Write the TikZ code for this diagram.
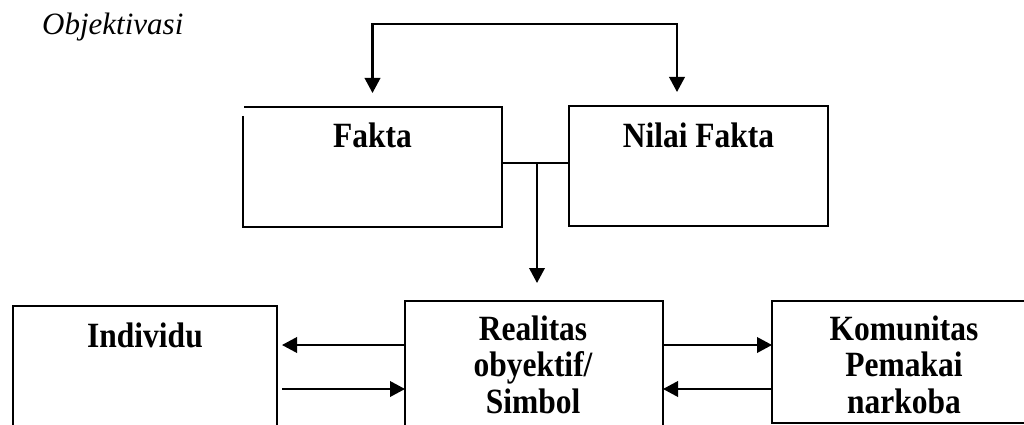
\documentclass[tikz,border=0pt]{standalone}
\usepackage{fontspec}
\usepackage{graphicx}
\setmainfont{Liberation Serif}
\usetikzlibrary{arrows.meta}
\newcommand\nrw[1]{\scalebox{0.887}[1]{#1}}
\begin{document}
\begin{tikzpicture}[x=1pt,y=-1pt,
  lw/.style={line width=2.1pt},
  boxshape/.style={rectangle, inner sep=0pt, outer sep=0pt},
  boxdraw/.style={boxshape, draw, lw},
  lbl/.style={inner sep=0pt, font=\fontsize{35.5}{36.5}\selectfont\bfseries, align=center},
  tip/.style={Triangle[length=15pt,width=15.5pt]},
  arr/.style={lw, -{Triangle[length=15pt,width=15.5pt]}},
  conn/.style={lw}
]
\useasboundingbox (0,0) rectangle (1024,425);
\clip (0,0) rectangle (1024,425);

% boxes
\node[boxshape, minimum width=259pt, minimum height=120pt] (fakta) at (372.5,167) {};
\draw[lw] ([yshift=-9pt]fakta.north west) -- (fakta.south west) -- (fakta.south east)
  -- (fakta.north east) -- ([xshift=1pt]fakta.north west);
\node[boxdraw, minimum width=259pt, minimum height=120pt] (nilai) at (698.5,166) {};
\node[boxdraw, minimum width=264pt, minimum height=160pt] (individu) at (145,386) {};
\node[boxdraw, minimum width=258pt, minimum height=170pt] (realitas) at (534,386) {};
\node[boxdraw, minimum width=264pt, minimum height=122.5pt] (komunitas) at (904,362) {};

% texts
\node[inner sep=0pt, anchor=base west, font=\fontsize{31}{36}\selectfont\itshape] (obj) at (42,35) {Objektivasi};
\node[lbl, anchor=base] (faktat) at (372.5,147) {\nrw{Fakta}};
\node[lbl, anchor=base] (nilait) at (698.5,147) {\nrw{Nilai Fakta}};
\node[lbl, anchor=base] (individut) at (145,347) {\nrw{Individu}};
\node[lbl, anchor=north] (realitast) at (533,315.5) {\nrw{Realitas}\\\nrw{obyektif/}\\\nrw{Simbol}};
\node[lbl, anchor=north] (komunitast) at (904,315.5) {\nrw{Komunitas}\\\nrw{Pemakai}\\\nrw{narkoba}};

% top connector
\coordinate (topbar) at (525,24);
\draw[lw, {Triangle[length=15pt,width=15.5pt]}-{Triangle[length=15pt,width=15.5pt]}, shorten <=14pt, shorten >=14pt]
  ([xshift=-21.5pt]nilai.north) |- (topbar) -| (fakta.north);

% middle connector
\coordinate (join) at (537,163);
\draw[conn] (join -| fakta.east) -- (join -| nilai.west);
\draw[arr, shorten >=18pt] (join) -- (join |- realitas.north);

% bottom arrows
\coordinate (r1) at (0,345);
\coordinate (r2) at (0,389);
\draw[arr, shorten >=5pt] (realitas.west |- r1) -- (individu.east |- r1);
\draw[arr, shorten <=5pt] (individu.east |- r2) -- (realitas.west |- r2);
\draw[arr] (realitas.east |- r1) -- (komunitas.west |- r1);
\draw[arr] (komunitas.west |- r2) -- (realitas.east |- r2);
\end{tikzpicture}
\end{document}
